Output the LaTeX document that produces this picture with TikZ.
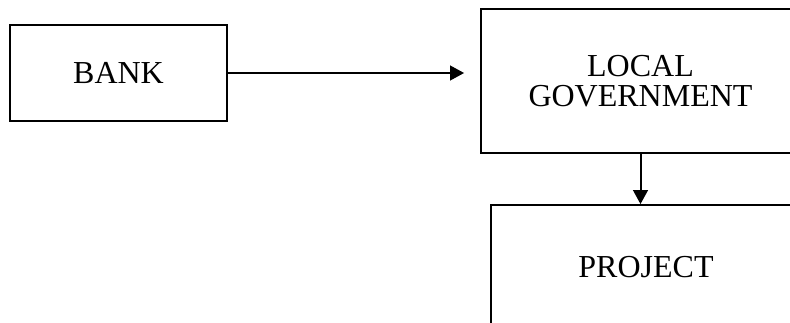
\documentclass[tikz,border=0pt]{standalone}
\usepackage{fontspec}
\setmainfont{Liberation Serif}
\usetikzlibrary{arrows.meta}
\begin{document}
\begin{tikzpicture}[x=0.75pt, y=-0.75pt,
  box/.style={draw, line width=1.3pt, inner sep=0pt, align=center,
    font=\fontsize{24}{22}\selectfont},
  link/.style={line width=1.5pt, -{Triangle[length=10.5pt, width=11pt]}}]
  \useasboundingbox (0,0) rectangle (790,322);
  \clip (0,0) rectangle (790,322);
  \node[box, minimum width=162.75pt, minimum height=72pt] (bank) at (118.5,73) {BANK};
  \node[box, minimum width=239.25pt, minimum height=108pt] (gov) at (640.5,81) {LOCAL\\GOVERNMENT};
  \node[box, minimum width=232.5pt, minimum height=93pt] (proj) at (646,267) {PROJECT};
  \coordinate (govin) at ([xshift=-12pt]gov.west |- bank.east);
  \draw[link] (bank.east) -- (govin);
  \draw[link] (gov.south) -- (gov.south |- proj.north);
\end{tikzpicture}
\end{document}
